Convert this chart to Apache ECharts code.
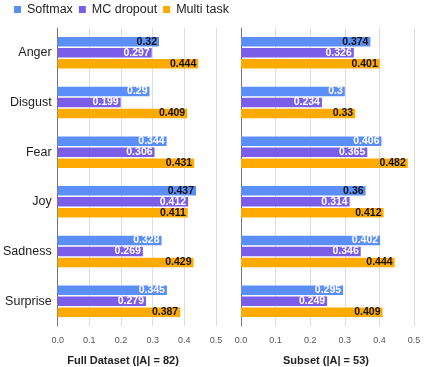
<!DOCTYPE html>
<html>
<head>
<meta charset="utf-8">
<script src="https://cdn.jsdelivr.net/npm/echarts@6/dist/echarts.min.js"></script>
<style>
  html, body { margin: 0; padding: 0; background: #fff; }
  #chart { width: 427px; height: 367px; }
</style>
</head>
<body>
<div id="chart"></div>
<script>
var emotions = ['Anger', 'Disgust', 'Fear', 'Joy', 'Sadness', 'Surprise'];
var xTicks = [0, 0.1, 0.2, 0.3, 0.4, 0.5];

// full dataset (|A| = 82)
var fullSoftmax = [0.32, 0.29, 0.344, 0.437, 0.328, 0.345];
var fullMC = [0.297, 0.199, 0.306, 0.412, 0.269, 0.279];
var fullMulti = [0.444, 0.409, 0.431, 0.411, 0.429, 0.387];

// subset (|A| = 53)
var subSoftmax = [0.374, 0.3, 0.406, 0.36, 0.402, 0.295];
var subMC = [0.326, 0.234, 0.365, 0.314, 0.346, 0.249];
var subMulti = [0.401, 0.33, 0.482, 0.412, 0.444, 0.409];

// softmax labels that are printed dark in the original
var fullSoftmaxDark = ['Anger', 'Joy'];
var subSoftmaxDark = ['Anger', 'Joy'];

var myChart = echarts.init(document.getElementById('chart'));

var colors = ['#5b8ff7', '#7a5ee9', '#fdab02'];
var font = '"Liberation Sans", Arial, sans-serif';

function toItems(vals, darkList) {
    return vals.map(function (v, i) {
        var dark = darkList === true || (darkList && darkList.indexOf(emotions[i]) >= 0);
        return { value: v, label: { color: dark ? '#111' : '#fff' } };
    });
}

function makeSeries(name, vals, idx, dark) {
    return {
        name: name,
        type: 'bar',
        xAxisIndex: idx,
        yAxisIndex: idx,
        barWidth: 9.5,
        barGap: '16%',
        data: toItems(vals, dark),
        label: {
            show: true,
            position: 'insideRight',
            distance: 2,
            fontSize: 10.5,
            fontWeight: 'bold',
            fontFamily: font
        }
    };
}

function xAxisFor(idx) {
    return {
        type: 'value',
        gridIndex: idx,
        min: 0,
        max: 0.5,
        interval: 0.1,
        axisLine: { show: false },
        axisTick: { show: false },
        splitLine: { lineStyle: { color: '#dedede' } },
        axisLabel: {
            fontSize: 9,
            color: '#555',
            fontFamily: font,
            margin: 10,
            formatter: function (v) { return v.toFixed(1); }
        }
    };
}

function yAxisFor(idx, showLabels) {
    return {
        type: 'category',
        gridIndex: idx,
        data: emotions,
        inverse: true,
        axisLine: { show: true, lineStyle: { color: '#777' } },
        axisTick: { show: false },
        axisLabel: {
            show: showLabels,
            fontSize: 12.5,
            color: '#222',
            fontFamily: font,
            margin: 6
        }
    };
}

var option = {
    animation: false,
    color: colors,
    legend: {
        top: 3,
        left: 14,
        padding: 0,
        itemWidth: 7,
        itemHeight: 7,
        itemGap: 6,
        icon: 'rect',
        textStyle: { fontSize: 12.5, color: '#222', fontFamily: font, padding: [0, 0, 0, 1] },
        data: ['Softmax', 'MC dropout', 'Multi task']
    },
    grid: [
        { left: 53, width: 163, top: 28, height: 298 },
        { left: 241, width: 173, top: 28, height: 298 }
    ],
    title: [
        {
            text: 'Full Dataset (|A| = 82)',
            left: 118,
            top: 350,
            textAlign: 'center',
            textStyle: { fontSize: 11, fontWeight: 'bold', color: '#222', fontFamily: font }
        },
        {
            text: 'Subset (|A| = 53)',
            left: 321,
            top: 350,
            textAlign: 'center',
            textStyle: { fontSize: 11, fontWeight: 'bold', color: '#222', fontFamily: font }
        }
    ],
    xAxis: [xAxisFor(0), xAxisFor(1)],
    yAxis: [yAxisFor(0, true), yAxisFor(1, false)],
    series: [
        makeSeries('Softmax', fullSoftmax, 0, fullSoftmaxDark),
        makeSeries('MC dropout', fullMC, 0, null),
        makeSeries('Multi task', fullMulti, 0, true),
        makeSeries('Softmax', subSoftmax, 1, subSoftmaxDark),
        makeSeries('MC dropout', subMC, 1, null),
        makeSeries('Multi task', subMulti, 1, true)
    ]
};

option && myChart.setOption(option);
</script>
</body>
</html>
